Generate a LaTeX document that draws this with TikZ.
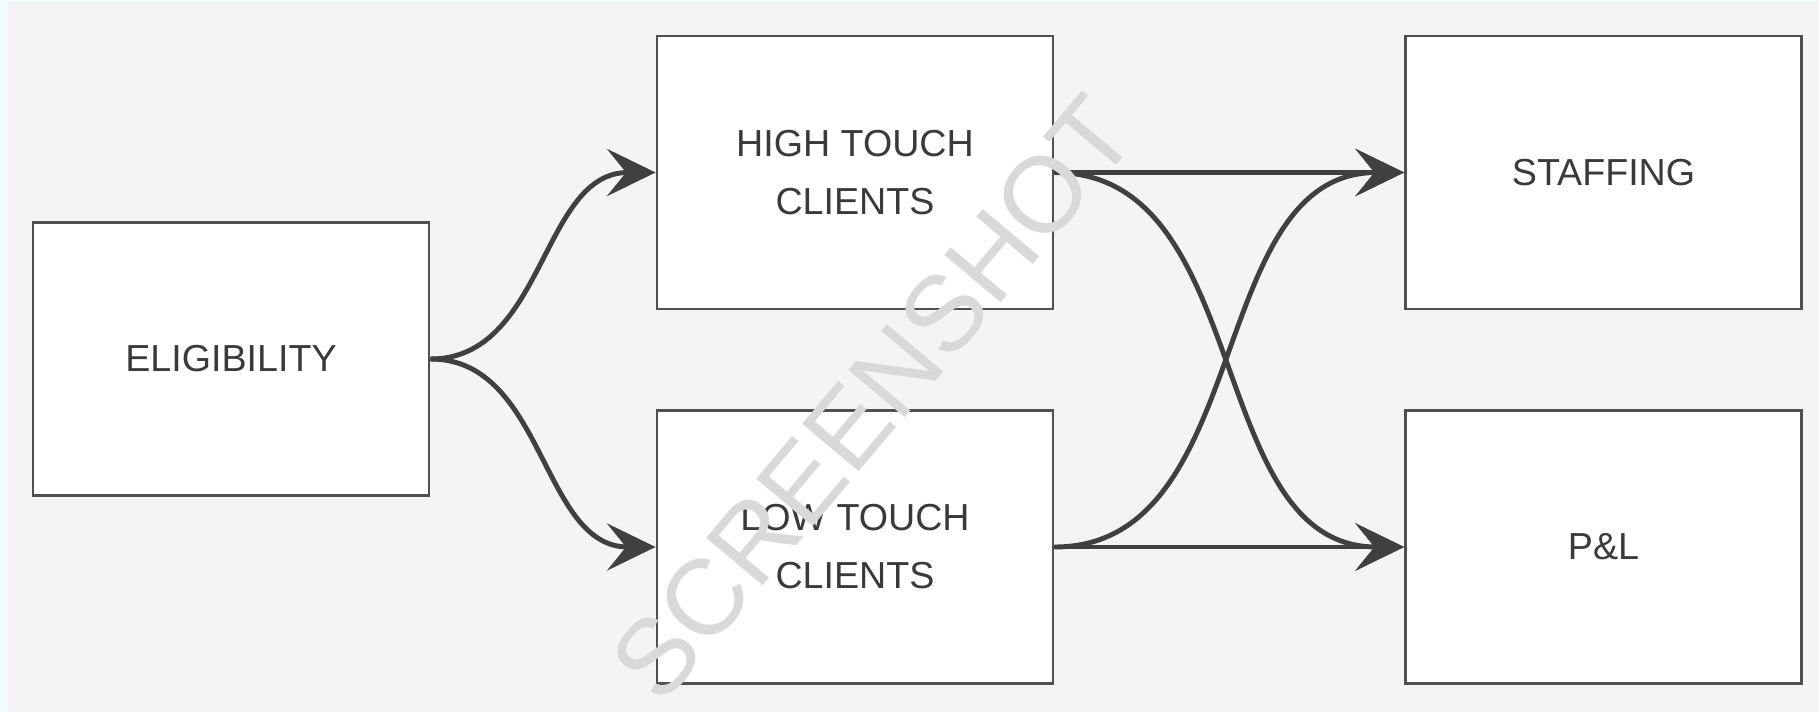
\documentclass[tikz,border=0pt]{standalone}
\usepackage{fontspec}
\setmainfont{Liberation Sans}
\usetikzlibrary{arrows.meta}
\definecolor{edgetint}{RGB}{240,251,253}
\definecolor{canvas}{RGB}{244,244,244}
\definecolor{boxline}{RGB}{80,80,80}
\definecolor{inkgray}{RGB}{58,58,58}
\definecolor{flowgray}{RGB}{64,64,64}
\definecolor{markgray}{RGB}{217,217,217}

\begin{document}
\begin{tikzpicture}[x=0.01cm, y=-0.01cm,
		stage/.style={draw=boxline, line width=0.75pt, fill=white, minimum width=3.96cm, minimum height=2.73cm, inner sep=0pt, align=center, text=inkgray, font=\fontsize{10.7}{16.5}\selectfont},
		flow/.style={draw=flowgray, line width=1.4pt, -{Stealth[length=13.8pt, width=13.4pt, inset=5.4pt]}}]
		%%%%% START %%%%%
		
		\fill[edgetint] (0, 0) rectangle (1819, 712);
		\fill[canvas] (8, 2) rectangle (1819, 712);
		
		\node[stage] (elig) at (231, 359) {ELIGIBILITY};
		\node[stage] (high) at (855, 172.5) {HIGH TOUCH\\CLIENTS};
		\node[stage] (low) at (855, 547) {LOW TOUCH\\CLIENTS};
		\node[stage] (staff) at (1603.5, 172.5) {STAFFING};
		\node[stage] (pnl) at (1603.5, 547) {P\&L};
		
		\draw[flow] (elig.east) to[out=0, in=180] (high.west);
		\draw[flow] (elig.east) to[out=0, in=180] (low.west);
		
		\draw[flow] (high.east) -- (staff.west);
		\draw[flow] (high.east) to[out=0, in=180] (pnl.west);
		\draw[flow] (low.east) to[out=0, in=180] (staff.west);
		\draw[flow] (low.east) -- (pnl.west);
		
		\node[rotate=50, inner sep=0pt, text=markgray, font=\fontsize{30.5}{30.5}\selectfont] (mark) at (873, 398) {SCREENSHOT};
		
		%%%%% END %%%%%
	\end{tikzpicture}
\end{document}
